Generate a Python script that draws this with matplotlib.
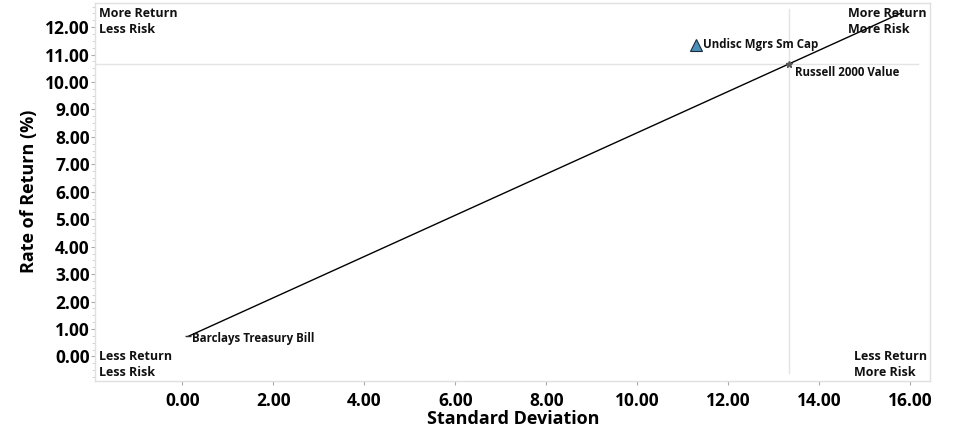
import matplotlib
matplotlib.use('Agg')
import matplotlib.pyplot as plt
from matplotlib.ticker import AutoMinorLocator

plt.rcParams['font.family'] = ['Open Sans', 'DejaVu Sans']

# points
names = ['Barclays Treasury Bill', 'Russell 2000 Value', 'Undisc Mgrs Sm Cap']
std_dev = [0.13, 13.34, 11.30]
returns = [0.73, 10.66, 11.35]

# market line, start and end
line_x = [0.13, 15.85]
line_y = [0.73, 12.55]

xticks = [0, 2, 4, 6, 8, 10, 12, 14, 16]
yticks = [0, 1, 2, 3, 4, 5, 6, 7, 8, 9, 10, 11, 12]

fig = plt.figure(figsize=(9.54, 4.30), dpi=100)
ax = fig.add_axes([0.1, 0.115, 0.875, 0.878])

ax.set_xlim(-1.91, 16.44)
ax.set_ylim(-0.88, 12.88)

# benchmark cross hairs
ax.axvline(std_dev[1], ymin=0.02, ymax=0.985, color='#e4e4e4', lw=1, zorder=1)
ax.axhline(returns[1], xmin=0.0, xmax=0.985, color='#e4e4e4', lw=1, zorder=1)

ax.plot(line_x, line_y, color='black', lw=1, zorder=2)

ax.plot(std_dev[0], returns[0], marker='_', color='#333333', ms=5, zorder=3)
ax.plot(std_dev[1], returns[1], marker='*', color='#555555', ms=5, zorder=3)
ax.plot(std_dev[2], returns[2], marker='^', color='#4a90b8', mec='#1a2a3a',
        mew=0.8, ms=9, zorder=3)

lbl = dict(fontsize=8.3, fontweight='bold', color='#111111')
ax.annotate(names[0], (std_dev[0], returns[0]), xytext=(3, -1.5),
            textcoords='offset points', va='center', ha='left', **lbl)
ax.annotate(names[1], (std_dev[1], returns[1]), xytext=(4, -6),
            textcoords='offset points', va='center', ha='left', **lbl)
ax.annotate(names[2], (std_dev[2], returns[2]), xytext=(5, 0),
            textcoords='offset points', va='center', ha='left', **lbl)

corner = dict(fontsize=9, fontweight='bold', color='#111111',
              transform=ax.transAxes, linespacing=1.3, multialignment='left')
ax.text(0.004, 0.99, 'More Return\nLess Risk', va='top', ha='left', **corner)
ax.text(0.996, 0.99, 'More Return\nMore Risk', va='top', ha='right', **corner)
ax.text(0.004, 0.08, 'Less Return\nLess Risk', va='top', ha='left', **corner)
ax.text(0.996, 0.08, 'Less Return\nMore Risk', va='top', ha='right', **corner)

ax.set_xticks(xticks)
ax.set_yticks(yticks)
ax.set_xticklabels(['%.2f' % v for v in xticks])
ax.set_yticklabels(['%.2f' % v for v in yticks])
ax.yaxis.set_minor_locator(AutoMinorLocator(4))
ax.tick_params(axis='both', labelsize=12.5, length=3, color='#aaaaaa')
ax.tick_params(axis='x', pad=5)
ax.tick_params(axis='y', pad=1)
ax.tick_params(axis='y', which='minor', length=2, color='#cccccc')
for t in ax.get_xticklabels() + ax.get_yticklabels():
    t.set_fontweight('bold')

for s in ax.spines.values():
    s.set_color('#e0e0e0')
    s.set_linewidth(1)

ax.set_xlabel('Standard Deviation', fontsize=13, fontweight='bold', labelpad=0)
ax.set_ylabel('Rate of Return (%)', fontsize=13, fontweight='bold', labelpad=5)

fig.savefig('out.png', dpi=100)
